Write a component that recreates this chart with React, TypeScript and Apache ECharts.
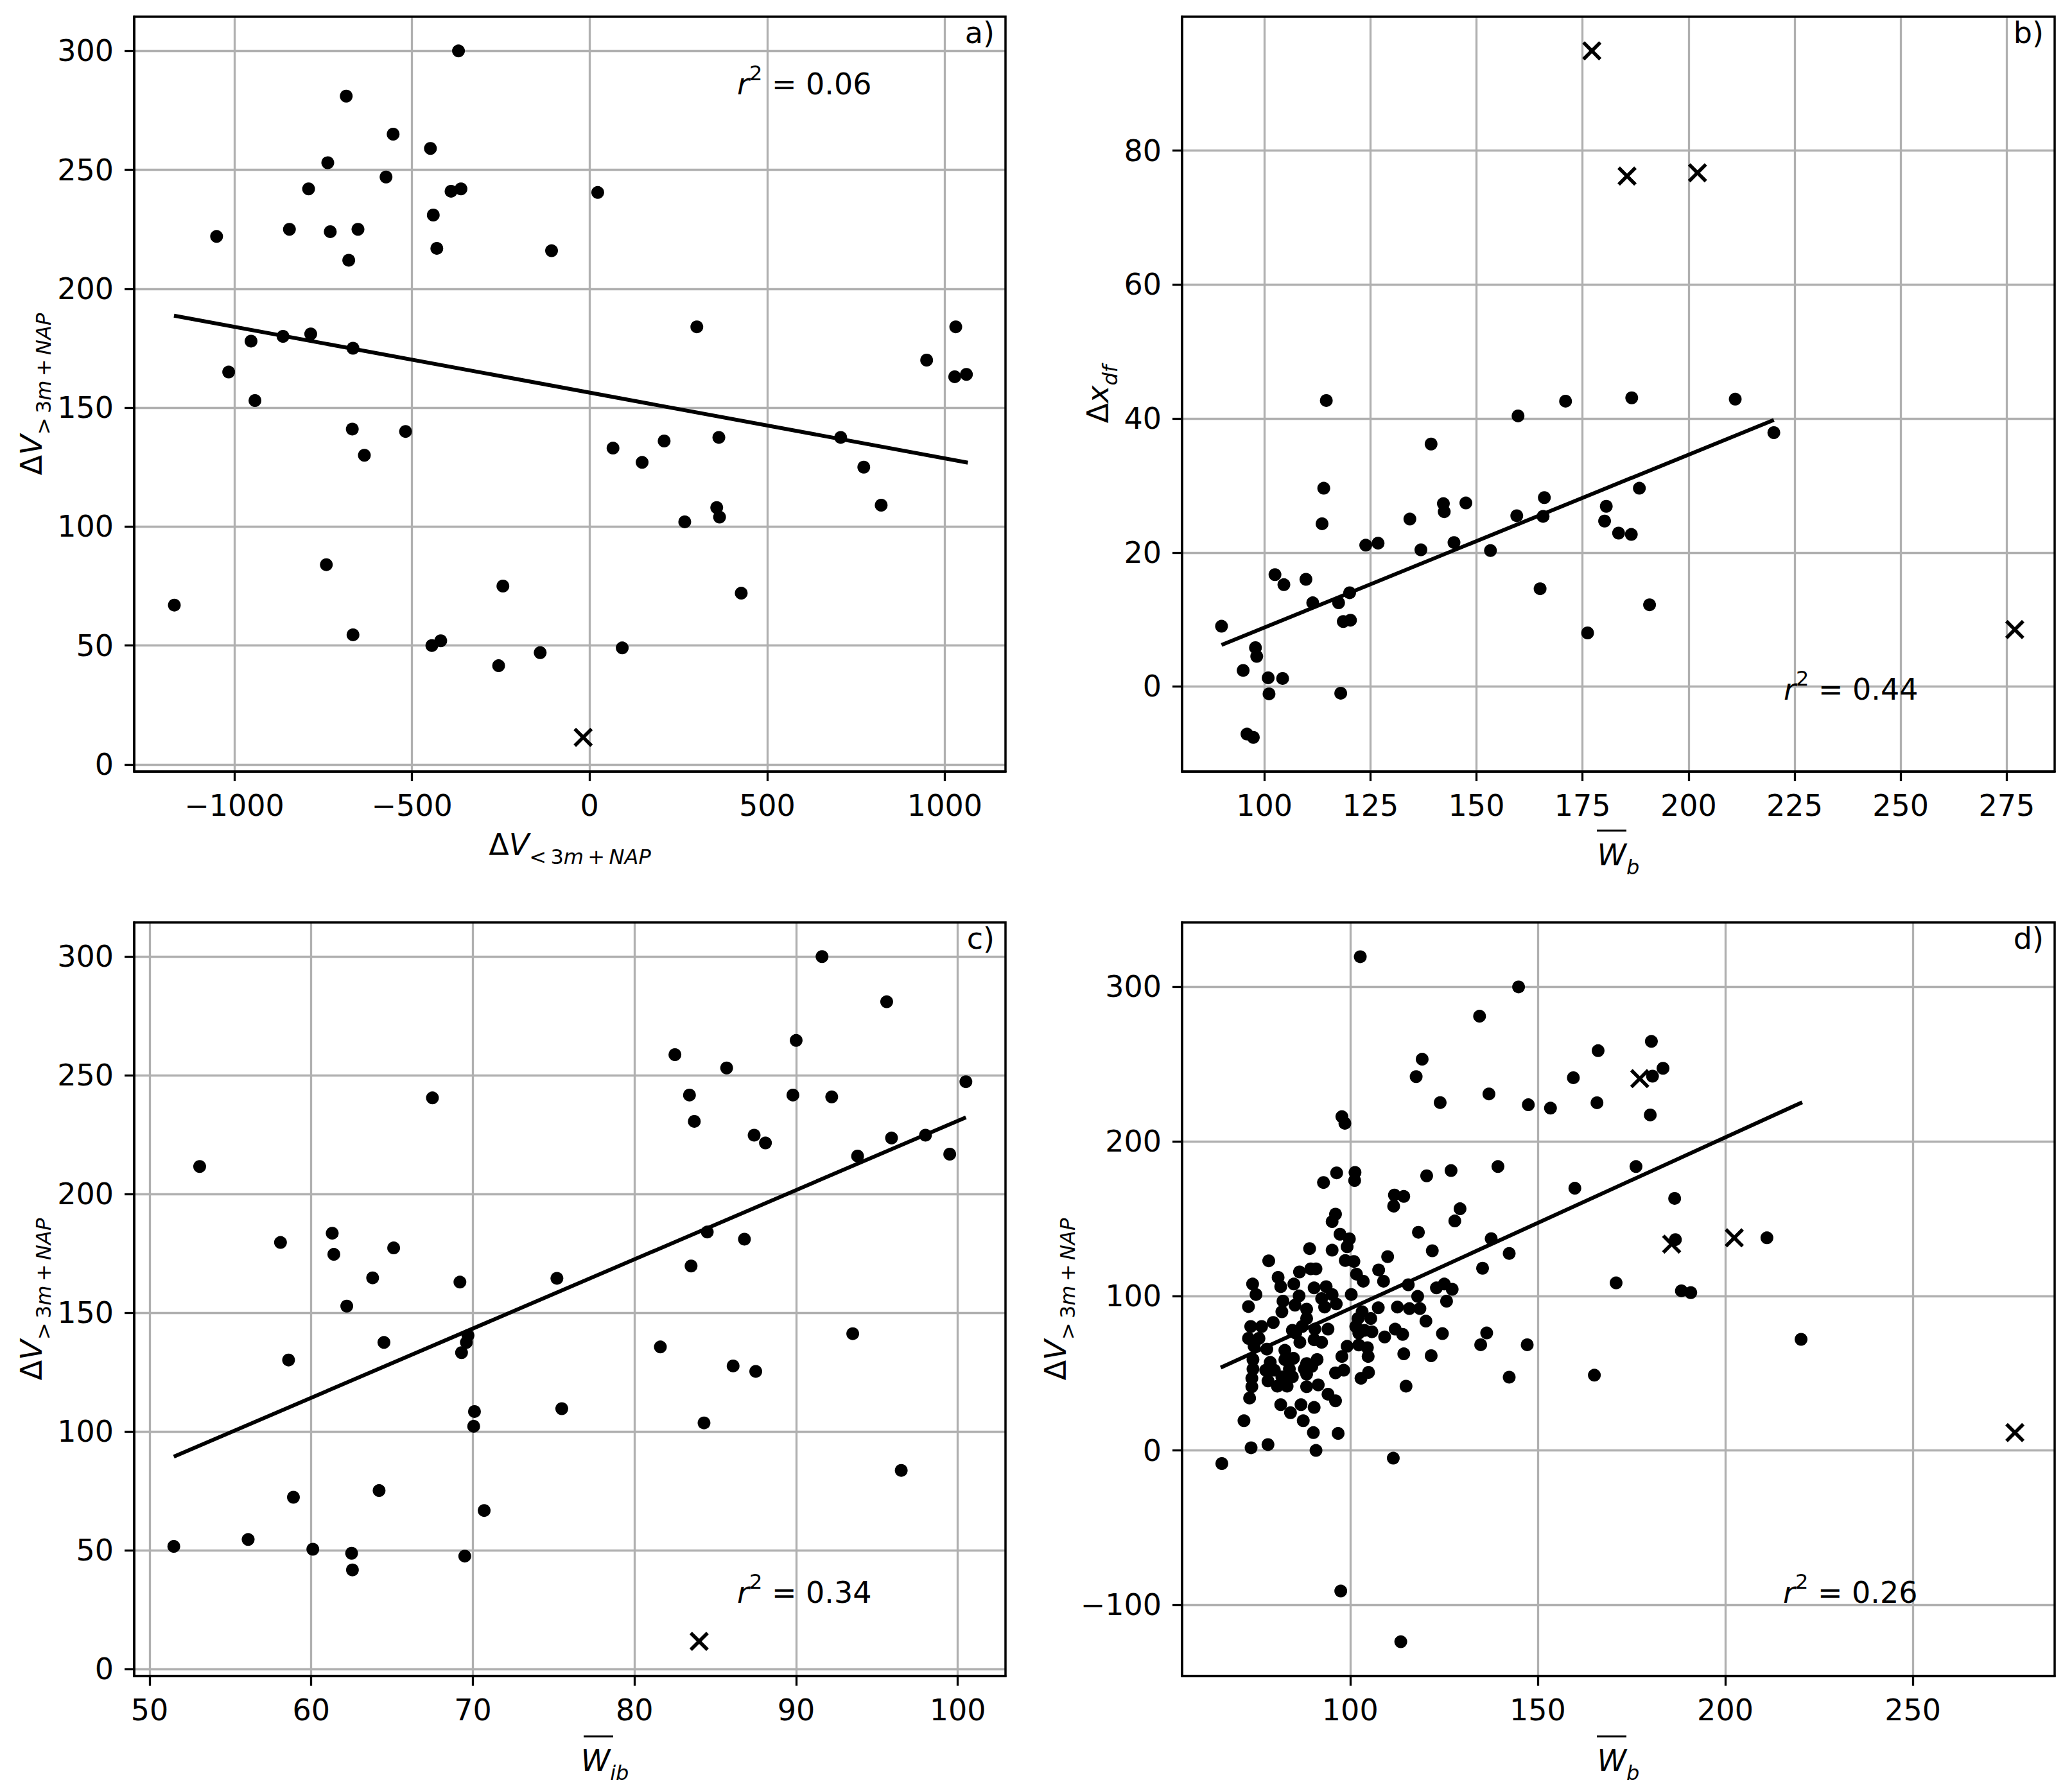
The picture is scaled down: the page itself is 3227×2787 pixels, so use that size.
import React, { useEffect, useRef } from "react";
import * as echarts from "echarts";

const FONT = "DejaVu Sans";

// ---------------- panel a) : dV<3m+NAP vs dV>3m+NAP ----------------
const aPoints: number[][] = [
  [-369, 300], [-685, 281], [-553, 265], [-448, 259], [-737, 253], [-573, 247], [-791, 242],
  [-390, 241], [-362, 242], [-440, 231], [-1050, 222], [-845, 225], [-730, 224], [-652, 225],
  [-430, 217], [-678, 212], [-107, 216], [-953, 178], [-863, 180], [-785, 181], [-666, 175],
  [-1016, 165], [-942, 153], [-668, 141], [-518, 140], [-634, 130], [-741, 84], [-1169, 67],
  [-666, 54.5], [-444, 50], [-419, 52], [-244, 75], [-256, 41.5], [-139, 47],
  [23, 240.5], [302, 184], [1031, 184], [949, 170], [1028, 163], [1061, 164], [66, 133],
  [148, 127], [210, 136], [364, 137.5], [707, 137.5], [772, 125], [821, 109], [358, 108],
  [366, 104], [268, 102], [427, 72], [92, 49],
];
const aOutliers: number[][] = [[-18, 11.4]];
const aFit: number[][] = [[-1170, 188.7], [1065, 126.9]];
const aXRange = [-1282, 1171];
const aYRange = [-3.0, 314.4];
const aXTicks = [-1000, -500, 0, 500, 1000];
const aYTicks = [0, 50, 100, 150, 200, 250, 300];
const aR2 = "0.06";

// ---------------- panel b) : Wb vs dx_df ----------------
const bPoints: number[][] = [
  [114.6, 42.7], [159.8, 40.4], [171.0, 42.6], [186.6, 43.1], [211.0, 42.9], [220.1, 37.9],
  [139.3, 36.2], [114.0, 29.6], [188.4, 29.6], [113.6, 24.3], [142.2, 27.3], [142.4, 26.1],
  [147.5, 27.4], [166.0, 28.2], [134.3, 25.0], [159.5, 25.5], [165.7, 25.4], [180.6, 26.9],
  [180.2, 24.7], [183.5, 22.9], [186.5, 22.7], [123.9, 21.1], [126.8, 21.4], [136.9, 20.4],
  [144.7, 21.5], [153.3, 20.3], [102.5, 16.7], [104.6, 15.2], [109.8, 16.0], [120.1, 14.0],
  [111.4, 12.5], [117.5, 12.5], [165.0, 14.6], [190.8, 12.2], [89.9, 9.0], [118.6, 9.7],
  [120.3, 9.9], [176.2, 8.0], [97.9, 5.8], [98.2, 4.5], [95.0, 2.4], [100.9, 1.3],
  [104.3, 1.2], [101.1, -1.1], [118.0, -1.0], [95.9, -7.1], [97.4, -7.6],
];
const bOutliers: number[][] = [[177.2, 94.9], [185.5, 76.2], [202.1, 76.7], [276.9, 8.5]];
const bFit: number[][] = [[89.9, 6.2], [220.1, 39.8]];
const bXRange = [80.6, 286.3];
const bYRange = [-12.7, 100.0];
const bXTicks = [100, 125, 150, 175, 200, 225, 250, 275];
const bYTicks = [0, 20, 40, 60, 80];
const bR2 = "0.44";

// ---------------- panel c) : Wib vs dV>3m+NAP ----------------
const cPoints: number[][] = [
  [67.5, 240.5], [53.1, 211.6], [58.1, 179.6], [61.3, 183.5], [61.4, 174.6], [65.1, 177.3],
  [63.8, 164.7], [69.2, 162.9], [62.2, 152.8], [64.5, 137.5], [69.7, 140.4], [69.6, 137.5],
  [69.3, 133.2], [58.6, 130.1], [70.1, 108.4], [70.05, 102.2], [75.5, 109.6], [58.9, 72.3],
  [64.2, 75.1], [70.7, 66.7], [51.5, 51.6], [56.1, 54.5], [60.1, 50.4], [62.5, 48.7],
  [62.55, 41.7], [69.5, 47.5], [75.2, 164.5],
  [91.6, 300], [95.6, 281], [90.0, 264.7], [82.5, 258.7], [85.7, 253.1], [100.5, 247.3],
  [83.4, 241.7], [89.8, 241.7], [92.2, 240.9], [83.7, 230.6], [87.4, 224.8], [88.1, 221.5],
  [98.0, 224.8], [95.9, 223.6], [93.8, 216], [99.5, 216.8], [84.5, 184], [86.8, 181],
  [83.5, 169.7], [81.6, 135.6], [93.5, 141.2], [86.1, 127.6], [87.5, 125.3], [84.3, 103.6],
  [96.5, 83.6],
];
const cOutliers: number[][] = [[84.0, 11.6]];
const cFit: number[][] = [[51.5, 89.4], [100.5, 232.3]];
const cXRange = [49.05, 102.95];
const cYRange = [-3.0, 314.4];
const cXTicks = [50, 60, 70, 80, 90, 100];
const cYTicks = [0, 50, 100, 150, 200, 250, 300];
const cR2 = "0.34";

// ---------------- panel d) : Wb vs dV>3m+NAP (all) ----------------
const dPoints: number[][] = [
  [102.7, 319.5], [119.2, 253.2], [117.6, 241.9], [124.0, 225.1],
  [97.5, -91], [113.5, -123.8], [65.8, -8.5], [111.5, -5],
  [144.9, 300], [134.5, 281], [166.1, 258.7], [180.3, 264.7], [159.5, 241.2], [183.4, 247.3],
  [180.6, 242.2], [137.0, 230.7], [147.5, 223.7], [153.4, 221.5], [165.8, 225.0], [180.0, 217.1],
  [139.4, 183.7], [176.2, 183.7], [159.9, 169.7], [186.5, 163.1], [137.6, 137.0], [142.4, 127.5],
  [135.3, 117.9], [186.7, 136.4], [211.1, 137.6], [170.9, 108.4], [188.3, 103.3], [190.8, 102.1],
  [136.4, 76.0], [134.8, 68.4], [147.2, 68.4], [142.4, 47.4], [165.1, 48.7], [220.2, 71.9],
  [97.8, 216], [98.6, 211.7], [92.9, 173.4], [96.4, 179.6], [101.3, 179.9], [101.2, 174.7],
  [120.4, 177.7], [126.9, 181.1], [111.8, 165.3], [114.3, 164.4], [111.6, 158.1], [129.3, 156.4],
  [127.9, 148.5], [96.1, 152.9], [95.2, 148.1], [118.2, 141.2], [97.3, 139.9], [99.8, 136.9],
  [99.2, 131.8], [89.2, 130.6], [95.2, 129.6], [121.9, 129.2], [110.0, 125.4], [78.3, 122.7],
  [98.7, 122.9], [101.0, 122.3], [86.5, 115.5], [89.5, 117.5], [90.9, 117.5], [107.6, 116.8],
  [101.7, 114.1], [103.5, 109.5], [108.9, 109.5], [80.8, 112.0], [74.0, 107.7], [85.0, 107.7],
  [81.5, 106.0], [90.4, 105.2], [93.6, 106.0], [115.5, 107.2], [123.0, 105.2], [125.1, 107.7],
  [127.2, 104.3], [74.9, 100.9], [100.3, 100.9], [86.4, 100.0], [92.4, 98.3], [95.2, 100.9],
  [118.0, 99.7], [82.1, 96.6], [125.7, 96.6], [72.9, 93.1], [85.3, 94.0], [88.4, 91.4],
  [93.2, 92.8], [96.3, 94.8], [112.6, 92.8], [107.5, 92.3], [115.8, 91.8], [118.6, 91.8],
  [81.8, 89.7], [103.2, 89.7], [88.4, 85.4], [102.1, 85.4], [105.5, 85.4], [120.2, 83.7],
  [73.5, 80.2], [76.4, 80.2], [79.5, 82.8], [84.6, 77.7], [87.2, 80.2], [90.6, 78.5],
  [94.1, 78.5], [101.5, 80.2], [103.8, 77.7], [105.8, 76.8], [109.2, 73.4], [112.0, 78.5],
  [114.0, 75.1], [124.6, 75.6], [72.9, 72.5], [75.7, 72.5], [85.5, 75.9], [90.4, 71.6],
  [86.6, 70.0], [102.3, 75.9], [99.2, 67.4], [102.3, 68.2], [104.6, 66.5], [92.4, 70.0],
  [74.4, 67.4], [77.8, 65.6], [82.6, 64.8], [114.3, 62.5], [121.6, 61.3], [97.8, 60.8],
  [104.8, 60.8], [74.1, 58.8], [78.7, 57.0], [82.6, 58.8], [84.9, 59.6], [88.4, 56.2],
  [91.2, 58.8], [74.1, 52.7], [77.5, 51.9], [79.8, 51.9], [83.8, 52.7], [87.8, 52.7],
  [89.8, 54.4], [96.1, 50.2], [98.3, 51.9], [73.8, 46.7], [78.1, 45.0], [81.8, 47.6],
  [84.6, 47.6], [88.4, 49.3], [102.9, 46.7], [104.9, 50.5], [73.8, 41.2], [80.6, 41.6],
  [83.2, 41.6], [88.4, 41.2], [91.5, 42.4], [114.9, 41.6], [73.2, 33.9], [94.1, 36.4],
  [96.1, 32.1], [81.5, 29.6], [84.1, 24.4], [86.9, 29.6], [90.4, 27.8], [87.5, 19.2],
  [71.7, 19.2], [90.2, 11.5], [96.8, 11.0], [73.6, 1.7], [78.1, 3.8], [90.9, 0.0],
];
const dOutliers: number[][] = [[177.2, 240.6], [185.7, 133.5], [202.4, 137.6], [277.2, 11.5]];
const dFit: number[][] = [[65.5, 53.6], [220.5, 225.3]];
const dXRange = [55.2, 287.8];
const dYRange = [-146, 341.7];
const dXTicks = [100, 150, 200, 250];
const dYTicks = [-100, 0, 100, 200, 300];
const dR2 = "0.26";

const panelLetters = ["a)", "b)", "c)", "d)"];

// ---------------- layout (pixels) ----------------
const W = 3227;
const H = 2787;
const GRIDS = [
  { left: 209, top: 26, width: 1357, height: 1176 },
  { left: 1841, top: 26, width: 1359, height: 1176 },
  { left: 209, top: 1437, width: 1357, height: 1174 },
  { left: 1841, top: 1437, width: 1359, height: 1174 },
];

const CROSS =
  "path://M0,1.3L1.3,0L5,3.7L8.7,0L10,1.3L6.3,5L10,8.7L8.7,10L5,6.3L1.3,10L0,8.7L3.7,5Z";

const fmt = (v: number) => (v < 0 ? "\u2212" + String(Math.abs(v)) : String(v));

function makeAxis(gridIndex: number, range: number[], step: number, ticks: number[], isX: boolean) {
  return {
    type: "value",
    gridIndex,
    min: range[0],
    max: range[1],
    minInterval: step,
    maxInterval: step,
    axisLine: { show: true, onZero: false, lineStyle: { color: "#000", width: 3.5 } },
    axisTick: {
      show: true,
      inside: false,
      length: 15,
      customValues: ticks,
      lineStyle: { color: "#000", width: 3.3 },
    },
    axisLabel: {
      show: true,
      customValues: ticks,
      margin: isX ? 30 : 32,
      fontSize: 46,
      fontFamily: FONT,
      color: "#000",
      formatter: fmt,
    },
    splitLine: { show: true, lineStyle: { color: "#b0b0b0", width: 3.3 } },
  };
}

function panelSeries(i: number, pts: number[][], outl: number[][], fit: number[][]) {
  return [
    {
      type: "line",
      xAxisIndex: i,
      yAxisIndex: i,
      data: fit,
      showSymbol: false,
      symbol: "none",
      lineStyle: { color: "#000", width: 6, opacity: 1 },
      z: 3,
      silent: true,
    },
    {
      type: "scatter",
      xAxisIndex: i,
      yAxisIndex: i,
      data: pts,
      symbol: "circle",
      symbolSize: 20,
      itemStyle: { color: "#000", opacity: 1 },
      z: 4,
      silent: true,
    },
    {
      type: "scatter",
      xAxisIndex: i,
      yAxisIndex: i,
      data: outl,
      symbol: CROSS,
      symbolSize: 30,
      itemStyle: { color: "#000", opacity: 1 },
      z: 4,
      silent: true,
    },
  ];
}

const RICH: any = {
  u: { fontSize: 46, fontFamily: FONT, lineHeight: 46, verticalAlign: "top", fill: "#000" },
  i: { fontSize: 46, fontFamily: FONT, fontStyle: "italic", lineHeight: 46, verticalAlign: "top", fill: "#000" },
  su: { fontSize: 32, fontFamily: FONT, lineHeight: 32, verticalAlign: "top", padding: [26, 0, 0, 0], fill: "#000" },
  si: {
    fontSize: 32, fontFamily: FONT, fontStyle: "italic", lineHeight: 32, verticalAlign: "top",
    padding: [26, 0, 0, 0], fill: "#000",
  },
  ri: {
    fontSize: 46, fontFamily: FONT, fontStyle: "italic", lineHeight: 46, verticalAlign: "top",
    padding: [10, 0, 0, 0], fill: "#000",
  },
  rn: { fontSize: 46, fontFamily: FONT, lineHeight: 46, verticalAlign: "top", padding: [10, 0, 0, 0], fill: "#000" },
  sup: { fontSize: 32, fontFamily: FONT, lineHeight: 32, verticalAlign: "top", fill: "#000" },
};

const TS = "\u2009";
const DV_UP = `{u|Δ}{i|V}{su|>${TS}3}{si|m}{su|${TS}+${TS}}{si|NAP}`;
const DV_LOW = `{u|Δ}{i|V}{su|<${TS}3}{si|m}{su|${TS}+${TS}}{si|NAP}`;
const DX_DF = `{u|Δ}{i|x}{si|df}`;
const W_B = `{i|W}{si|b}`;
const W_IB = `{i|W}{si|ib}`;

function richText(text: string, x: number, y: number, rotate: boolean, align = "center") {
  return {
    type: "text",
    x,
    y,
    rotation: rotate ? Math.PI / 2 : 0,
    silent: true,
    z: 50,
    style: {
      text,
      rich: RICH,
      align,
      verticalAlign: "middle",
      fill: "#000",
      fontFamily: FONT,
      fontSize: 46,
    },
  };
}

function r2Text(val: string, x: number, y: number) {
  return richText(`{ri|r}{sup|2}{rn|\u00A0= ${val}}`, x, y, false, "left");
}

function overline(x1: number, x2: number, y: number) {
  return {
    type: "line",
    silent: true,
    z: 50,
    shape: { x1, y1: y, x2, y2: y },
    style: { stroke: "#000", lineWidth: 3 },
  };
}

function buildOption() {
  const xAxis = [
    makeAxis(0, aXRange, 500, aXTicks, true),
    makeAxis(1, bXRange, 25, bXTicks, true),
    makeAxis(2, cXRange, 10, cXTicks, true),
    makeAxis(3, dXRange, 50, dXTicks, true),
  ];
  const yAxis = [
    makeAxis(0, aYRange, 50, aYTicks, false),
    makeAxis(1, bYRange, 20, bYTicks, false),
    makeAxis(2, cYRange, 50, cYTicks, false),
    makeAxis(3, dYRange, 100, dYTicks, false),
  ];
  const series = [
    ...panelSeries(0, aPoints, aOutliers, aFit),
    ...panelSeries(1, bPoints, bOutliers, bFit),
    ...panelSeries(2, cPoints, cOutliers, cFit),
    ...panelSeries(3, dPoints, dOutliers, dFit),
  ];

  const elements: any[] = [];
  GRIDS.forEach((g, i) => {
    elements.push({
      type: "rect",
      silent: true,
      z: 60,
      shape: { x: g.left, y: g.top, width: g.width, height: g.height },
      style: { fill: "none", stroke: "#000", lineWidth: 3.5 },
    });
    elements.push({
      type: "text",
      silent: true,
      z: 50,
      x: g.left + g.width - 17,
      y: g.top + 2,
      style: {
        text: panelLetters[i],
        fontSize: 46,
        fontFamily: FONT,
        fill: "#000",
        align: "right",
        verticalAlign: "top",
      },
    });
  });

  // axis titles
  elements.push(richText(DV_LOW, 887.5, 1316, false));
  elements.push(richText(W_B, 2520.5, 1332, false));
  elements.push(overline(2487, 2533, 1294));
  elements.push(richText(W_IB, 942, 2743, false));
  elements.push(overline(909, 955, 2705));
  elements.push(richText(W_B, 2520.5, 2743, false));
  elements.push(overline(2487, 2533, 2705));

  elements.push(richText(DV_UP, 49, 614, true));
  elements.push(richText(DX_DF, 1710, 614, true));
  elements.push(richText(DV_UP, 49, 2024, true));
  elements.push(richText(DV_UP, 1644, 2024, true));

  // r^2 annotations
  elements.push(r2Text(aR2, 1148, 121));
  elements.push(r2Text(bR2, 2778, 1064));
  elements.push(r2Text(cR2, 1148, 2471));
  elements.push(r2Text(dR2, 2777, 2471));

  return {
    animation: false,
    backgroundColor: "#ffffff",
    textStyle: { fontFamily: FONT },
    grid: GRIDS.map((g) => ({ ...g, containLabel: false, outerBoundsMode: "none", show: false })),
    xAxis,
    yAxis,
    series,
    graphic: { elements },
  };
}

export default function App() {
  const ref = useRef<HTMLDivElement>(null);
  useEffect(() => {
    document.body.style.margin = "0";
    if (!ref.current) return;
    const chart = echarts.init(ref.current, null, { renderer: "svg" });
    chart.setOption(buildOption() as any);
    return () => {
      chart.dispose();
    };
  }, []);
  return <div ref={ref} style={{ width: W, height: H, background: "#fff" }} />;
}
